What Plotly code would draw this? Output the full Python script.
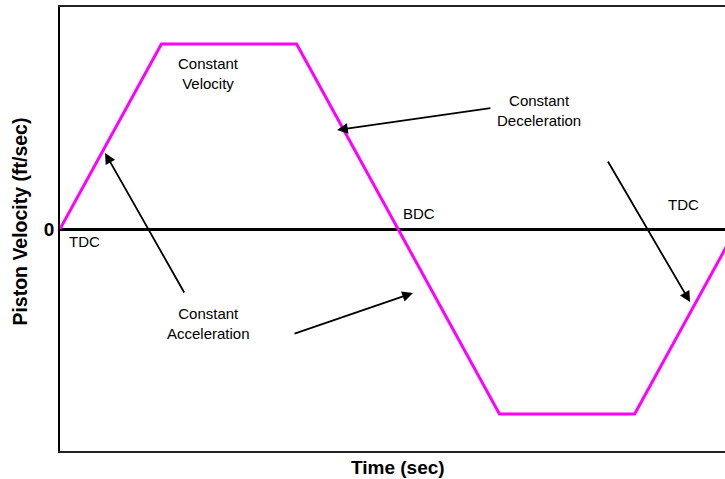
import plotly.graph_objects as go

# piston velocity over one crank revolution (trapezoidal profile)
crank_time = [0, 54, 126, 234, 306, 360]
piston_velocity = [0, 1, 1, -1, -1, 0]

labels = ["TDC", "Constant<br>Velocity", "Constant<br>Deceleration", "BDC", "TDC", "Constant<br>Acceleration"]
label_t = [13, 79, 255, 191, 332, 79]
label_v = [-0.065, 0.843, 0.64, 0.086, 0.13, -0.51]

# arrows: (tail_t, tail_v) -> (head_t, head_v)
arrow_tail_t = [66.6, 124.1, 230.0, 291.3]
arrow_tail_v = [-0.351, -0.568, 0.654, 0.373]
arrow_head_t = [24.0, 188.0, 147.5, 335.5]
arrow_head_v = [0.411, -0.346, 0.535, -0.395]

FONT = "Arial, Liberation Sans, sans-serif"

fig = go.Figure()
fig.add_trace(go.Scatter(
    x=crank_time, y=piston_velocity, mode="lines",
    line=dict(color="#FF00FF", width=3), hoverinfo="skip", showlegend=False
))

annotations = []
for txt, t, v in zip(labels, label_t, label_v):
    annotations.append(dict(
        x=t, y=v, xref="x", yref="y", text=txt, showarrow=False,
        font=dict(family=FONT, size=15, color="#000"), align="center"
    ))

for tt, tv, ht, hv in zip(arrow_tail_t, arrow_tail_v, arrow_head_t, arrow_head_v):
    annotations.append(dict(
        x=ht, y=hv, ax=tt, ay=tv, xref="x", yref="y", axref="x", ayref="y",
        text="", showarrow=True, arrowhead=2, arrowsize=1.2, arrowwidth=1.8,
        arrowcolor="#000"
    ))

# axis titles
annotations.append(dict(
    x=180, y=0, xref="x", yref="paper", yanchor="middle", yshift=-16,
    text="<b>Time (sec)</b>", showarrow=False,
    font=dict(family=FONT, size=19, color="#000")
))
annotations.append(dict(
    x=0, y=0.04, xref="paper", yref="y", xanchor="center", xshift=-40,
    text="<b>Piston Velocity (ft/sec)</b>", textangle=-90, showarrow=False,
    font=dict(family=FONT, size=19.5, color="#000")
))

fig.update_layout(
    width=725, height=479,
    margin=dict(l=60, r=0, t=7, b=28),
    paper_bgcolor="white", plot_bgcolor="white",
    annotations=annotations,
    showlegend=False,
)
fig.update_xaxes(
    range=[0, 354.1], showgrid=False, zeroline=False,
    showticklabels=False, ticks="",
    showline=True, linecolor="#222", linewidth=1.5, mirror=True
)
fig.update_yaxes(
    range=[-1.2, 1.2], showgrid=False,
    zeroline=True, zerolinecolor="#000", zerolinewidth=3,
    tickvals=[0], ticktext=["<b>0</b>"], ticks="",
    tickfont=dict(family=FONT, size=19, color="#000"),
    showline=True, linecolor="#000", linewidth=1.5
)

fig.write_html(
    "out.html",
    config={"displayModeBar": False},
    post_script="document.body.style.margin='0';document.body.style.overflow='hidden';"
)
